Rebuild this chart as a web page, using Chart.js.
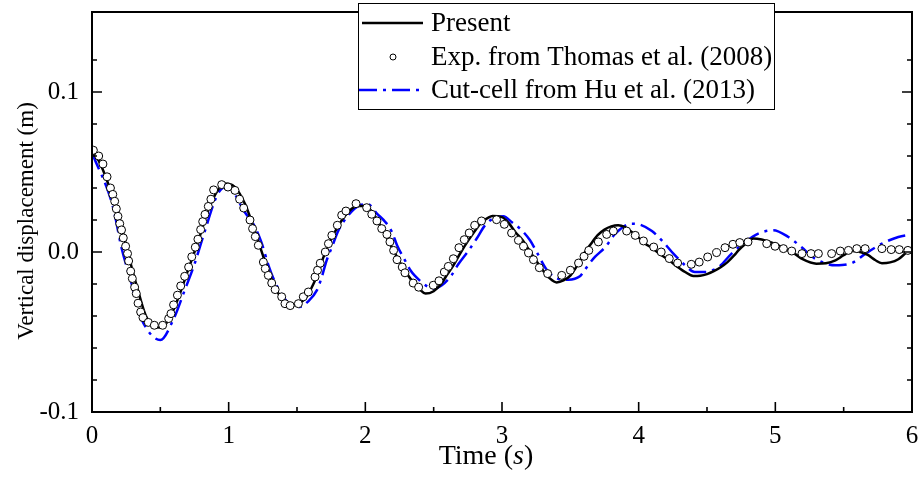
<!DOCTYPE html>
<html>
<head>
<meta charset="utf-8">
<script src="https://cdn.jsdelivr.net/npm/chart.js@4.4.0/dist/chart.umd.min.js"></script>
<style>
  html, body { margin: 0; padding: 0; background: #fff; }
</style>
</head>
<body>
<canvas id="grafico" width="923" height="477"></canvas>
<script>
// Present (linha preta)
const presentT = [0, 0.05, 0.10, 0.15, 0.19, 0.24, 0.29, 0.34, 0.39, 0.45, 0.50, 0.56, 0.63, 0.70, 0.78, 0.85, 0.92, 0.97,
  1.04, 1.12, 1.19, 1.25, 1.30, 1.35, 1.40, 1.46, 1.52, 1.57, 1.62, 1.66, 1.69, 1.75, 1.80, 1.85, 1.90, 1.94,
  2.00, 2.05, 2.10, 2.15, 2.20, 2.25, 2.30, 2.35, 2.40, 2.44, 2.50, 2.55, 2.60, 2.65, 2.70, 2.75, 2.80, 2.85, 2.90, 2.93,
  3.00, 3.05, 3.10, 3.15, 3.20, 3.25, 3.30, 3.35, 3.40, 3.45, 3.50, 3.55, 3.60, 3.65, 3.70, 3.75, 3.80, 3.85, 3.90, 3.95,
  4.00, 4.05, 4.10, 4.15, 4.22, 4.28, 4.34, 4.40, 4.45, 4.50, 4.55, 4.60, 4.65, 4.70, 4.73, 4.78, 4.84, 4.90,
  5.00, 5.07, 5.14, 5.20, 5.30, 5.37, 5.44, 5.50, 5.56, 5.62, 5.68, 5.73, 5.78, 5.84, 5.90, 5.95, 6.00];
const presentV = [0.0625, 0.057, 0.047, 0.0345, 0.025, 0.0073, -0.0095, -0.025, -0.039, -0.0468, -0.0472, -0.0425, -0.029, -0.012, 0.0075, 0.026, 0.0385, 0.0428,
  0.041, 0.030, 0.0135, -0.002, -0.014, -0.024, -0.030, -0.0335, -0.032, -0.028, -0.020, -0.012, -0.004, 0.008, 0.016, 0.0225, 0.027, 0.0288,
  0.0287, 0.025, 0.018, 0.010, 0.002, -0.006, -0.013, -0.019, -0.0235, -0.026, -0.0245, -0.0205, -0.014, -0.0075, 0.000, 0.0068, 0.013, 0.0185, 0.0215, 0.0225,
  0.0218, 0.018, 0.0122, 0.0075, 0.001, -0.0055, -0.0115, -0.0165, -0.019, -0.0178, -0.0148, -0.0085, -0.001, 0.005, 0.0105, 0.014, 0.016, 0.0167, 0.0155, 0.0125,
  0.009, 0.005, 0.0025, -0.001, -0.005, -0.009, -0.0125, -0.015, -0.0148, -0.0138, -0.012, -0.0095, -0.0063, -0.002, 0.001, 0.005, 0.0085, 0.0078,
  0.005, 0.002, -0.001, -0.0045, -0.0073, -0.007, -0.0052, -0.002, 0.0006, 0.0, -0.002, -0.005, -0.007, -0.0065, -0.0045, -0.001, 0.002];

// Exp. Thomas et al. (círculos)
const expT = [0.01, 0.049, 0.08, 0.11, 0.135, 0.152, 0.166, 0.178, 0.19, 0.203, 0.216, 0.229, 0.246, 0.26, 0.268, 0.283, 0.295, 0.312, 0.324, 0.337,
  0.356, 0.373, 0.412, 0.456, 0.517, 0.561, 0.578, 0.597, 0.625, 0.649, 0.678, 0.707, 0.73, 0.756, 0.775, 0.795, 0.81, 0.827, 0.851, 0.87, 0.89,
  0.949, 0.995, 1.046, 1.08, 1.11, 1.156, 1.175, 1.195, 1.217, 1.254, 1.268, 1.29, 1.315, 1.34, 1.388, 1.412, 1.45, 1.51, 1.546, 1.583,
  1.632, 1.65, 1.67, 1.707, 1.73, 1.755, 1.795, 1.827, 1.858, 1.932, 2.01, 2.047, 2.085, 2.12, 2.158, 2.18, 2.207, 2.232, 2.27, 2.29, 2.35, 2.39,
  2.497, 2.539, 2.578, 2.607, 2.644, 2.685, 2.724, 2.76, 2.8, 2.85, 2.96, 3.017, 3.07, 3.12, 3.157, 3.194, 3.23, 3.273, 3.334, 3.437, 3.5, 3.56,
  3.60, 3.635, 3.705, 3.766, 3.815, 3.912, 3.975, 4.035, 4.11, 4.165, 4.224, 4.285, 4.385, 4.443, 4.505, 4.57, 4.632, 4.69, 4.74, 4.80,
  4.937, 4.998, 5.059, 5.12, 5.195, 5.261, 5.315, 5.412, 5.475, 5.535, 5.596, 5.657, 5.78, 5.848, 5.907, 5.97];
const expV = [0.0636, 0.060, 0.055, 0.047, 0.040, 0.036, 0.0317, 0.027, 0.0223, 0.0177, 0.0138, 0.0088, 0.0036, -0.001, -0.0056, -0.012, -0.0166, -0.022, -0.026, -0.032,
  -0.0375, -0.041, -0.044, -0.0458, -0.0458, -0.0416, -0.0385, -0.033, -0.027, -0.0212, -0.0152, -0.0094, -0.003, 0.003, 0.008, 0.014, 0.019, 0.0235, 0.0285, 0.033, 0.0388,
  0.0421, 0.0406, 0.0385, 0.033, 0.0275, 0.020, 0.0146, 0.0096, 0.0042, -0.0063, -0.0104, -0.0146, -0.0194, -0.0235, -0.028, -0.0323, -0.0335, -0.0323, -0.028, -0.025,
  -0.0156, -0.0114, -0.007, 0.0, 0.0052, 0.0104, 0.0167, 0.023, 0.0256, 0.0302, 0.0277, 0.0236, 0.0194, 0.0146, 0.011, 0.0063, 0.001, -0.0048, -0.0094, -0.013, -0.0194, -0.022,
  -0.0208, -0.018, -0.0125, -0.009, -0.0042, 0.0027, 0.0077, 0.0119, 0.0167, 0.0194, 0.0202, 0.0173, 0.0119, 0.0073, 0.0036, -0.0006, -0.0048, -0.0098, -0.0135, -0.0146, -0.0114, -0.0069,
  -0.0027, 0.001, 0.0063, 0.011, 0.0131, 0.0131, 0.0104, 0.0069, 0.0031, 0.0, -0.0041, -0.0069, -0.0077, -0.0063, -0.0031, -0.0004, 0.0027, 0.0048, 0.0059, 0.0063,
  0.0052, 0.0036, 0.0021, 0.0006, -0.001, -0.001, -0.001, -0.001, 0.0006, 0.001, 0.0021, 0.0021, 0.0021, 0.0015, 0.0015, 0.001];

// Cut-cell Hu et al. (traço-ponto azul)
const cutT = [0, 0.154, 0.215, 0.29, 0.337, 0.40, 0.50, 0.593, 0.678, 0.751, 0.812, 0.922, 0.99, 1.117, 1.19, 1.24, 1.29, 1.34, 1.40, 1.45,
  1.52, 1.58, 1.645, 1.68, 1.717, 1.755, 1.804, 1.865, 1.96, 2.02, 2.085, 2.146, 2.195, 2.232, 2.29, 2.33, 2.36, 2.46, 2.50, 2.56,
  2.63, 2.68, 2.756, 2.815, 2.876, 2.95, 3.01, 3.07, 3.144, 3.205, 3.254, 3.33, 3.41, 3.485, 3.57, 3.60, 3.63, 3.68, 3.756, 3.83,
  3.95, 4.01, 4.097, 4.18, 4.254, 4.34, 4.41, 4.48, 4.585, 4.68, 4.78, 4.875, 4.985, 5.095, 5.19, 5.29, 5.44, 5.56, 5.66, 5.78, 5.90, 6.0];
const cutV = [0.062, 0.028, 0.003, -0.020, -0.036, -0.048, -0.055, -0.0427, -0.024, -0.0073, 0.0094, 0.0365, 0.041, 0.025, 0.016, 0.006, -0.008, -0.019, -0.028, -0.033,
  -0.0344, -0.031, -0.024, -0.016, -0.0052, 0.003, 0.0136, 0.0219, 0.0292, 0.0298, 0.024, 0.0188, 0.0125, 0.0042, -0.0052, -0.0114, -0.0146, -0.0219, -0.0229, -0.0208,
  -0.0146, -0.0077, 0.001, 0.0084, 0.0167, 0.0215, 0.0223, 0.0188, 0.0136, 0.0073, 0.0, -0.0114, -0.0167, -0.0173, -0.0152, -0.012, -0.0083, -0.0031, 0.0031, 0.0115,
  0.0177, 0.0171, 0.0131, 0.0063, -0.001, -0.0083, -0.0125, -0.0125, -0.0094, -0.001, 0.0063, 0.0115, 0.0136, 0.0094, 0.0031, -0.0041, -0.0083, -0.0069, -0.001, 0.0052, 0.0094, 0.011];

// Eixos
const xMin = 0, xMax = 6, xStep = 0.5;
const yMin = -0.1, yMax = 0.15, yStep = 0.02;
const yRotulos = [-0.1, 0.0, 0.1];
const legendas = ["Present", "Exp. from Thomas et al. (2008)", "Cut-cell from Hu et al. (2013)"];

const FONTE = "'Liberation Serif', 'Times New Roman', serif";
const pares = (ts, vs) => ts.map((t, i) => ({ x: t, y: vs[i] }));

const tracoDash = [18, 6, 3, 6];

// Moldura, ticks para dentro, títulos e legenda
const molduraPlugin = {
  id: 'moldura',
  afterDatasetsDraw(chart) {
    const { ctx, chartArea: a, scales: { x, y } } = chart;
    ctx.save();
    ctx.strokeStyle = '#000';
    ctx.lineWidth = 1.6;
    x.ticks.forEach(t => {
      const px = x.getPixelForValue(t.value);
      const maior = Math.abs(t.value - Math.round(t.value)) < 1e-6;
      const len = maior ? 10 : 5;
      ctx.beginPath();
      ctx.moveTo(px, a.bottom);
      ctx.lineTo(px, a.bottom - len);
      ctx.stroke();
    });
    y.ticks.forEach(t => {
      const k = t.value / yStep;
      if (Math.abs(k - Math.round(k)) > 1e-6) return;
      const py = y.getPixelForValue(t.value);
      const maior = Math.abs(t.value * 10 - Math.round(t.value * 10)) < 1e-6;
      const len = maior ? 10 : 5;
      ctx.beginPath();
      ctx.moveTo(a.left, py); ctx.lineTo(a.left + len, py);
      ctx.moveTo(a.right, py); ctx.lineTo(a.right - len, py);
      ctx.stroke();
    });
    ctx.lineWidth = 2;
    ctx.strokeRect(a.left, a.top, a.right - a.left, a.bottom - a.top);

    // títulos
    ctx.fillStyle = '#000';
    ctx.textBaseline = 'alphabetic';
    const f1 = "28px " + FONTE, f2 = "italic 28px " + FONTE;
    ctx.font = f1;
    const w1 = ctx.measureText("Time (").width;
    const w3 = ctx.measureText(")").width;
    ctx.font = f2;
    const w2 = ctx.measureText("s").width;
    let x0 = 486 - (w1 + w2 + w3) / 2;
    const by = 464;
    ctx.font = f1; ctx.textAlign = 'left';
    ctx.fillText("Time (", x0, by);
    ctx.font = f2; ctx.fillText("s", x0 + w1, by);
    ctx.font = f1; ctx.fillText(")", x0 + w1 + w2, by);

    ctx.save();
    ctx.translate(33, 221);
    ctx.rotate(-Math.PI / 2);
    ctx.textAlign = 'center';
    ctx.font = "23px " + FONTE;
    ctx.fillText("Vertical displacement (m)", 0, 0);
    ctx.restore();

    // legenda
    const L = 358, T = 3, R = 774, B = 109;
    ctx.fillStyle = '#fff';
    ctx.fillRect(L, T, R - L, B - T);
    ctx.lineWidth = 1;
    ctx.strokeStyle = '#000';
    ctx.strokeRect(L + 0.5, T + 0.5, R - L, B - T);
    const linhas = [23, 57, 90];
    ctx.font = "27px " + FONTE;
    ctx.textAlign = 'left';
    ctx.textBaseline = 'middle';
    ctx.fillStyle = '#000';
    // Present
    ctx.lineWidth = 2.5;
    ctx.beginPath(); ctx.moveTo(362, linhas[0]); ctx.lineTo(423, linhas[0]); ctx.stroke();
    // Exp
    ctx.lineWidth = 1;
    ctx.beginPath(); ctx.arc(393, linhas[1], 3, 0, Math.PI * 2);
    ctx.fillStyle = '#fff'; ctx.fill(); ctx.stroke();
    // Cut-cell
    ctx.strokeStyle = '#0000ff';
    ctx.lineWidth = 2.5;
    ctx.setLineDash(tracoDash);
    ctx.beginPath(); ctx.moveTo(359, linhas[2]); ctx.lineTo(423, linhas[2]); ctx.stroke();
    ctx.setLineDash([]);
    ctx.fillStyle = '#000';
    legendas.forEach((txt, i) => ctx.fillText(txt, 431, linhas[i] + 1));
    ctx.restore();
  }
};

new Chart(document.getElementById("grafico"), {
  type: 'scatter',
  data: {
    datasets: [
      {
        label: legendas[1],
        data: pares(expT, expV),
        showLine: false,
        pointRadius: 4,
        pointBackgroundColor: '#ffffff',
        pointBorderColor: '#000000',
        pointBorderWidth: 1,
        order: 0
      },
      {
        label: legendas[0],
        data: pares(presentT, presentV),
        showLine: true,
        borderColor: '#000000',
        borderWidth: 2.5,
        pointRadius: 0,
        cubicInterpolationMode: 'monotone',
        order: 1
      },
      {
        label: legendas[2],
        data: pares(cutT, cutV),
        showLine: true,
        borderColor: '#0000ff',
        borderWidth: 2.5,
        borderDash: tracoDash,
        pointRadius: 0,
        cubicInterpolationMode: 'monotone',
        order: 2
      }
    ]
  },
  options: {
    responsive: false,
    animation: false,
    layout: { padding: { left: 0, right: 11, top: 12, bottom: 0 } },
    plugins: { legend: { display: false }, tooltip: { enabled: false } },
    scales: {
      x: {
        type: 'linear',
        min: xMin, max: xMax,
        grid: { display: false, drawTicks: false },
        border: { display: false },
        afterFit: s => { s.height = 65; s.paddingLeft = 0; s.paddingRight = 0; },
        ticks: {
          stepSize: xStep,
          padding: 9,
          color: '#000',
          maxRotation: 0,
          autoSkip: false,
          font: { family: FONTE, size: 25 },
          callback: v => Math.abs(v - Math.round(v)) < 1e-6 ? String(Math.round(v)) : ''
        }
      },
      y: {
        type: 'linear',
        min: yMin, max: yMax,
        grid: { display: false, drawTicks: false },
        border: { display: false },
        afterFit: s => { s.width = 92; s.paddingTop = 0; s.paddingBottom = 0; },
        ticks: {
          stepSize: yStep,
          padding: 13,
          color: '#000',
          autoSkip: false,
          font: { family: FONTE, size: 25 },
          callback: v => {
            const r = yRotulos.find(q => Math.abs(q - v) < 1e-6);
            return r === undefined ? '' : r.toFixed(1);
          }
        }
      }
    }
  },
  plugins: [molduraPlugin]
});
</script>
</body>
</html>
